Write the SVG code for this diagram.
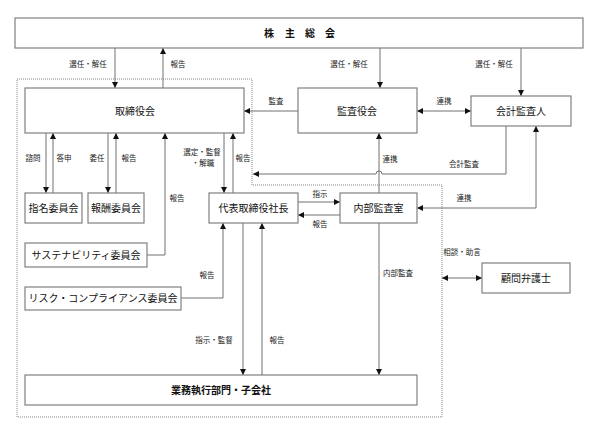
<svg xmlns="http://www.w3.org/2000/svg" width="600" height="441" viewBox="0 0 600 441">
<style>
.box{fill:#fff;stroke:#808080;stroke-width:1.2}
.bt{font-family:"Noto Sans CJK JP","Noto Sans",sans-serif;font-size:10px;fill:#111;text-anchor:middle}
.lb{font-family:"Noto Sans CJK JP","Noto Sans",sans-serif;font-size:7.5px;fill:#222;text-anchor:middle}
.ln{fill:none;stroke:#707070;stroke-width:1}
.ar{marker-end:url(#ah)}
.ar2{marker-start:url(#ah);marker-end:url(#ah)}
</style>
<defs>
<marker id="ah" viewBox="0 0 6 6" refX="6" refY="3" markerWidth="6" markerHeight="6" markerUnits="userSpaceOnUse" orient="auto-start-reverse">
<path d="M0,0 L6,3 L0,6 z" fill="#111"/>
</marker>
</defs>
<rect width="600" height="441" fill="#fff"/>
<path d="M17,79 H252 V185 H442 V417 H17 Z" fill="none" stroke="#888" stroke-width="1" stroke-dasharray="1,1"/>
<g id="connectors">
<path class="ln ar" d="M115,48 V88"/>
<path class="ln ar" d="M163,88 V48"/>
<path class="ln ar" d="M380,48 V88"/>
<path class="ln ar" d="M521,48 V96"/>
<path class="ln ar" d="M298,111 H244"/>
<path class="ln ar2" d="M417,111 H471"/>
<path class="ln ar" d="M46,133 V193"/>
<path class="ln ar" d="M53,193 V133"/>
<path class="ln ar" d="M108,133 V193"/>
<path class="ln ar" d="M116,193 V133"/>
<path class="ln ar" d="M147,255 H165 V133"/>
<path class="ln ar" d="M224,133 V193"/>
<path class="ln ar" d="M233,193 V133"/>
<path class="ln ar" d="M181,298 H223 V223"/>
<path class="ln ar" d="M243,223 V375"/>
<path class="ln ar" d="M262,375 V223"/>
<path class="ln ar" d="M298,202 H340"/>
<path class="ln ar" d="M340,215 H298"/>
<path class="ln ar" d="M379,193 V133"/>
<path class="ln ar" d="M506,126 V174 H382 A3,3 0 0 0 376,174 H253"/>
<path class="ln ar2" d="M417,208 H536 V126"/>
<path class="ln ar" d="M379,223 V375"/>
<path class="ln ar2" d="M442,278 H482"/>
</g>
<g id="labels">
<text class="lb" x="88" y="67">選任・解任</text>
<text class="lb" x="178" y="67">報告</text>
<text class="lb" x="349" y="67">選任・解任</text>
<text class="lb" x="494" y="67">選任・解任</text>
<text class="lb" x="276" y="104">監査</text>
<text class="lb" x="444" y="104">連携</text>
<text class="lb" x="33" y="161">諮問</text>
<text class="lb" x="64" y="161">答申</text>
<text class="lb" x="97" y="161">委任</text>
<text class="lb" x="129" y="161">報告</text>
<text class="lb" x="177" y="201">報告</text>
<text class="lb" x="202" y="155">選定・監督</text>
<text class="lb" x="203" y="166">・解職</text>
<text class="lb" x="243" y="161">報告</text>
<text class="lb" x="320" y="197">指示</text>
<text class="lb" x="320" y="227">報告</text>
<text class="lb" x="390" y="162">連携</text>
<text class="lb" x="464" y="167">会計監査</text>
<text class="lb" x="464" y="201">連携</text>
<text class="lb" x="462" y="255">相談・助言</text>
<text class="lb" x="398" y="276">内部監査</text>
<text class="lb" x="207" y="278">報告</text>
<text class="lb" x="214" y="343">指示・監督</text>
<text class="lb" x="277" y="343">報告</text>
</g>
<g id="shareholders"><rect class="box" x="15" y="18" width="568" height="30"/><text class="bt" x="269 290 310 330" y="36.5" font-weight="bold">株主総会</text></g>
<g id="board"><rect class="box" x="25" y="88" width="219" height="45"/><text class="bt" x="135" y="114.5">取締役会</text></g>
<g id="audit-board"><rect class="box" x="298" y="88" width="119" height="45"/><text class="bt" x="357" y="114.5">監査役会</text></g>
<g id="accounting-auditor"><rect class="box" x="471" y="96" width="100" height="30"/><text class="bt" x="521" y="114.5">会計監査人</text></g>
<g id="nomination"><rect class="box" x="25" y="193" width="57" height="30"/><text class="bt" x="53.5" y="211.5">指名委員会</text></g>
<g id="compensation"><rect class="box" x="88" y="193" width="56" height="30"/><text class="bt" x="116" y="211.5">報酬委員会</text></g>
<g id="president"><rect class="box" x="209" y="193" width="89" height="30"/><text class="bt" x="253.5" y="211.5">代表取締役社長</text></g>
<g id="internal-audit"><rect class="box" x="340" y="193" width="77" height="30"/><text class="bt" x="378.5" y="211.5">内部監査室</text></g>
<g id="sustainability"><rect class="box" x="25" y="243" width="122" height="24"/><text class="bt" x="86" y="258.5">サステナビリティ委員会</text></g>
<g id="risk"><rect class="box" x="25" y="287" width="156" height="23"/><text class="bt" x="103" y="302">リスク・コンプライアンス委員会</text></g>
<g id="lawyer"><rect class="box" x="482" y="263" width="88" height="30"/><text class="bt" x="526" y="281.5">顧問弁護士</text></g>
<g id="operations"><rect class="box" x="25" y="375" width="392" height="30"/><text class="bt" x="221" y="393.5" font-weight="bold">業務執行部門・子会社</text></g>
</svg>
